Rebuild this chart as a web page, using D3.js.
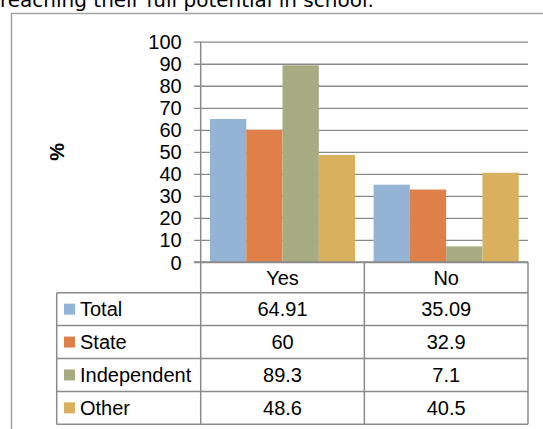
<!DOCTYPE html>
<html>
<head>
<meta charset="utf-8">
<script src="https://cdn.jsdelivr.net/npm/d3@7"></script>
<style>
html,body{margin:0;padding:0;background:#fff;}
svg{display:block;}
text{font-family:"Liberation Sans",Arial,sans-serif;fill:#000;}
</style>
</head>
<body>
<svg id="chart" width="543" height="429"></svg>
<script>
const categories = ["Yes", "No"];
const seriesNames = ["Total", "State", "Independent", "Other"];
const totalValues = [64.91, 35.09];
const stateValues = [60, 32.9];
const independentValues = [89.3, 7.1];
const otherValues = [48.6, 40.5];
const seriesLabels = [["64.91","35.09"],["60","32.9"],["89.3","7.1"],["48.6","40.5"]];
const yTicks = [0,10,20,30,40,50,60,70,80,90,100];
const colors = ["#94b4d5", "#df8049", "#a6ab81", "#d9b15e"];
const titleText = "reaching their full potential in school.";
const yTitle = "%";

const series = [totalValues, stateValues, independentValues, otherValues];

const svg = d3.select("#chart");
const gridColor = "#8a8a8a";

// cut-off title (partly above the page edge, as in the reference)
svg.append("text").attr("x", 0).attr("y", 6.5)
  .style("font-family", "'DejaVu Sans', Verdana, sans-serif")
  .style("font-size", "20px").text(titleText);

// outer frame
svg.append("rect").attr("x", 11.5).attr("y", 13.5).attr("width", 600).attr("height", 600)
  .attr("fill", "none").attr("stroke", "#a3a3a3").attr("stroke-width", 1.5);

const plotLeft = 200.7, plotRight = 528, plotTop = 41.7, zeroY = 262;
const y = d3.scaleLinear().domain([0, 100]).range([zeroY, plotTop]);
const x0 = d3.scaleBand().domain(categories).range([plotLeft, plotRight]).paddingInner(0).paddingOuter(0);
const x1 = d3.scaleBand().domain(seriesNames).range([0, x0.bandwidth()]).paddingInner(0).paddingOuter(0.255);

// gridlines + ticks
const yAxis = d3.axisLeft(y).tickValues(yTicks).tickSize(-(plotRight - plotLeft)).tickSizeOuter(0).tickPadding(12);
const ga = svg.append("g").attr("transform", `translate(${plotLeft},0)`).call(yAxis);
ga.select(".domain").remove();
ga.selectAll(".tick line").attr("stroke", gridColor).attr("stroke-width", 1.3).attr("x1", -6.7);
ga.selectAll(".tick text").style("font-size", "20px").attr("x", -19).attr("dy", "0.35em")
  .style("font-family", "'Liberation Sans',Arial,sans-serif").attr("fill", "#000");

// bars
seriesNames.forEach((s, si) => {
  svg.append("g").selectAll("rect").data(categories).join("rect")
    .attr("x", c => x0(c) + x1(s))
    .attr("width", x1.bandwidth())
    .attr("y", (c, ci) => y(series[si][ci]))
    .attr("height", (c, ci) => zeroY - y(series[si][ci]))
    .attr("fill", colors[si]);
});

// axis line + table
const tableTop = zeroY, catRowBottom = 292.7, rowH = 32.9;
const tableBottom = catRowBottom + rowH * seriesNames.length;
const tableLeft = 56.7;
const lines = svg.append("g").attr("stroke", gridColor).attr("stroke-width", 1.5).attr("fill", "none");
lines.append("line").attr("x1", plotLeft).attr("x2", plotLeft).attr("y1", plotTop).attr("y2", tableBottom);
[x0("No"), plotRight].forEach(xx => {
  lines.append("line").attr("x1", xx).attr("x2", xx).attr("y1", tableTop).attr("y2", tableBottom);
});
lines.append("line").attr("x1", tableLeft).attr("x2", tableLeft).attr("y1", catRowBottom).attr("y2", tableBottom);
lines.append("line").attr("x1", plotLeft - 6.7).attr("x2", plotRight).attr("y1", zeroY).attr("y2", zeroY);
for (let i = 0; i <= seriesNames.length; i++) {
  const yy = catRowBottom + rowH * i;
  lines.append("line").attr("x1", tableLeft).attr("x2", plotRight).attr("y1", yy).attr("y2", yy);
}

// category labels
svg.append("g").selectAll("text").data(categories).join("text")
  .attr("x", c => x0(c) + x0.bandwidth() / 2)
  .attr("y", (tableTop + catRowBottom) / 2).attr("dy", "0.36em")
  .attr("text-anchor", "middle").style("font-size", "20px").text(c => c);

// rows
seriesNames.forEach((s, si) => {
  const cy = catRowBottom + rowH * si + rowH / 2;
  svg.append("rect").attr("x", 64).attr("y", cy - 5.5).attr("width", 11).attr("height", 11).attr("fill", colors[si]);
  svg.append("text").attr("x", 80).attr("y", cy).attr("dy", "0.36em").style("font-size", "20px").text(s);
  categories.forEach((c, ci) => {
    svg.append("text").attr("x", x0(c) + x0.bandwidth() / 2).attr("y", cy).attr("dy", "0.36em")
      .attr("text-anchor", "middle").style("font-size", "20px").text(seriesLabels[si][ci]);
  });
});

// y title
svg.append("text").attr("transform", `translate(57,${(plotTop + zeroY) / 2}) rotate(-90)`)
  .attr("text-anchor", "middle").attr("dy", "0.35em")
  .style("font-size", "20px").style("font-weight", "bold").text(yTitle);
</script>
</body>
</html>
